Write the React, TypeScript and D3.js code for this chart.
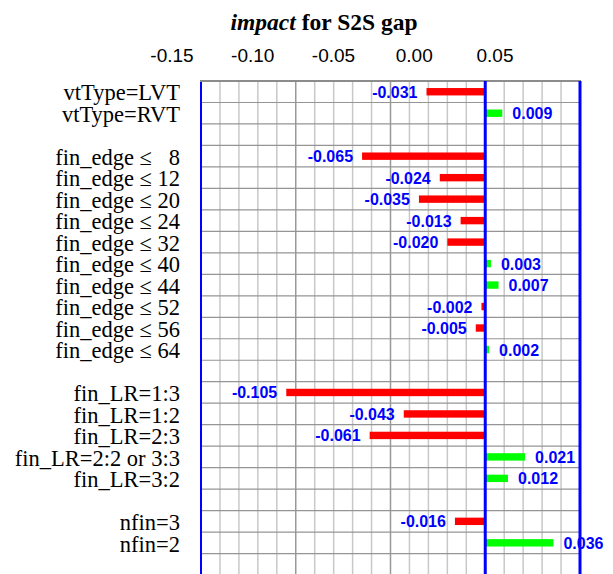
import * as React from 'react';
import * as d3 from 'd3';

// rows of the chart, "" = empty spacer row
const rowLabels: string[] = [
    "vtType=LVT", "vtType=RVT", "",
    "fin_edge ≤   8", "fin_edge ≤ 12", "fin_edge ≤ 20", "fin_edge ≤ 24", "fin_edge ≤ 32",
    "fin_edge ≤ 40", "fin_edge ≤ 44", "fin_edge ≤ 52", "fin_edge ≤ 56", "fin_edge ≤ 64", "",
    "fin_LR=1:3", "fin_LR=1:2", "fin_LR=2:3", "fin_LR=2:2 or 3:3", "fin_LR=3:2", "",
    "nfin=3", "nfin=2", ""
];
const impacts: (number | null)[] = [
    -0.031, 0.009, null,
    -0.065, -0.024, -0.035, -0.013, -0.020,
    0.003, 0.007, -0.002, -0.005, 0.002, null,
    -0.105, -0.043, -0.061, 0.021, 0.012, null,
    -0.016, 0.036, null
];
const tickValues = [-0.15, -0.10, -0.05, 0.00, 0.05];

const SERIF = "Liberation Serif, Times New Roman, serif";
const SANS = "Liberation Sans, Arial, sans-serif";
const fmt = (f: string) => (v: number) => d3.format(f)(v).replace("\u2212", "-");

const App: React.FC = () => {
    const ref = React.useRef<SVGSVGElement>(null);

    React.useEffect(() => {
        const svg = d3.select(ref.current);
        svg.selectAll("*").remove();

        const left = 201, right = 580, top = 81;
        const rowH = 21.48;

        const x = d3.scaleLinear().domain([-0.15, 0.05]).range([left, right]);
        // the printed tick labels sit a bit off the grid in the original
        const xLabel = d3.scaleLinear().domain([-0.15, 0.05]).range([172, 495]);
        const y = d3.scaleBand<number>()
            .domain(d3.range(rowLabels.length))
            .range([top, top + rowLabels.length * rowH])
            .padding(0);
        const bottom = top + rowLabels.length * rowH;

        // title
        const title = svg.append("text")
            .attr("x", 324).attr("y", 30)
            .attr("text-anchor", "middle")
            .attr("font-family", SERIF)
            .attr("font-size", 23.5)
            .attr("font-weight", "bold");
        title.append("tspan").attr("font-style", "italic").text("impact");
        title.append("tspan").text(" for S2S gap");

        // tick labels
        svg.append("g").selectAll("text")
            .data(tickValues)
            .enter().append("text")
            .attr("x", d => xLabel(d))
            .attr("y", 62)
            .attr("text-anchor", "middle")
            .attr("font-family", SANS)
            .attr("font-size", 19)
            .text(d => fmt(".2f")(d));

        // vertical grid
        const gridX = d3.range(1, 20).map(i => -0.15 + i * 0.01);
        svg.append("g").selectAll("line")
            .data(gridX)
            .enter().append("line")
            .attr("x1", d => x(d)).attr("x2", d => x(d))
            .attr("y1", top).attr("y2", bottom)
            .attr("stroke", (d, i) => ((i + 1) % 5 === 0 ? "#999" : "#c8c8c8"))
            .attr("stroke-width", 1.5);

        // horizontal grid
        svg.append("g").selectAll("line")
            .data(d3.range(1, rowLabels.length))
            .enter().append("line")
            .attr("x1", left).attr("x2", right)
            .attr("y1", d => top + d * rowH).attr("y2", d => top + d * rowH)
            .attr("stroke", "#959595")
            .attr("stroke-width", 1.2);

        // frame
        svg.append("line").attr("x1", left - 1).attr("x2", right + 1)
            .attr("y1", top).attr("y2", top)
            .attr("stroke", "#8c8c8c").attr("stroke-width", 2);
        svg.append("line").attr("x1", left).attr("x2", left)
            .attr("y1", top + 1).attr("y2", bottom)
            .attr("stroke", "#0000ff").attr("stroke-width", 2);
        svg.append("line").attr("x1", right).attr("x2", right)
            .attr("y1", top).attr("y2", bottom)
            .attr("stroke", "#0000ff").attr("stroke-width", 3);

        const rows = d3.range(rowLabels.length).filter(i => impacts[i] !== null);

        // bars
        svg.append("g").selectAll("rect")
            .data(rows)
            .enter().append("rect")
            .attr("x", i => x(Math.min(0, impacts[i]!)))
            .attr("width", i => Math.abs(x(impacts[i]!) - x(0)))
            .attr("y", i => y(i)! + y.bandwidth() / 2 - 3.7)
            .attr("height", 7.4)
            .attr("fill", i => (impacts[i]! < 0 ? "#ff0000" : "#00ff00"));

        // zero line
        svg.append("line").attr("x1", x(0)).attr("x2", x(0))
            .attr("y1", top).attr("y2", bottom)
            .attr("stroke", "#0000ff").attr("stroke-width", 3);

        // value labels
        svg.append("g").selectAll("text")
            .data(rows)
            .enter().append("text")
            .attr("x", i => (impacts[i]! < 0 ? x(impacts[i]!) - 9 : x(impacts[i]!) + 10))
            .attr("y", i => y(i)! + y.bandwidth() / 2 + 6)
            .attr("text-anchor", i => (impacts[i]! < 0 ? "end" : "start"))
            .attr("font-family", SANS)
            .attr("font-size", 16)
            .attr("font-weight", "bold")
            .attr("fill", "#0000ff")
            .text(i => fmt(".3f")(impacts[i]!));

        // row labels
        svg.append("g").selectAll("text")
            .data(d3.range(rowLabels.length))
            .enter().append("text")
            .attr("x", 180)
            .attr("y", i => y(i)! + y.bandwidth() / 2 + 8.7)
            .attr("text-anchor", "end")
            .attr("font-family", SERIF)
            .attr("font-size", 22.5)
            .style("white-space", "pre")
            .text(i => rowLabels[i]);
    }, []);

    return (
        <svg ref={ref} width={613} height={574}
            style={{ position: 'absolute', left: 0, top: 0, background: '#fff' }} />
    );
};

export default App;
